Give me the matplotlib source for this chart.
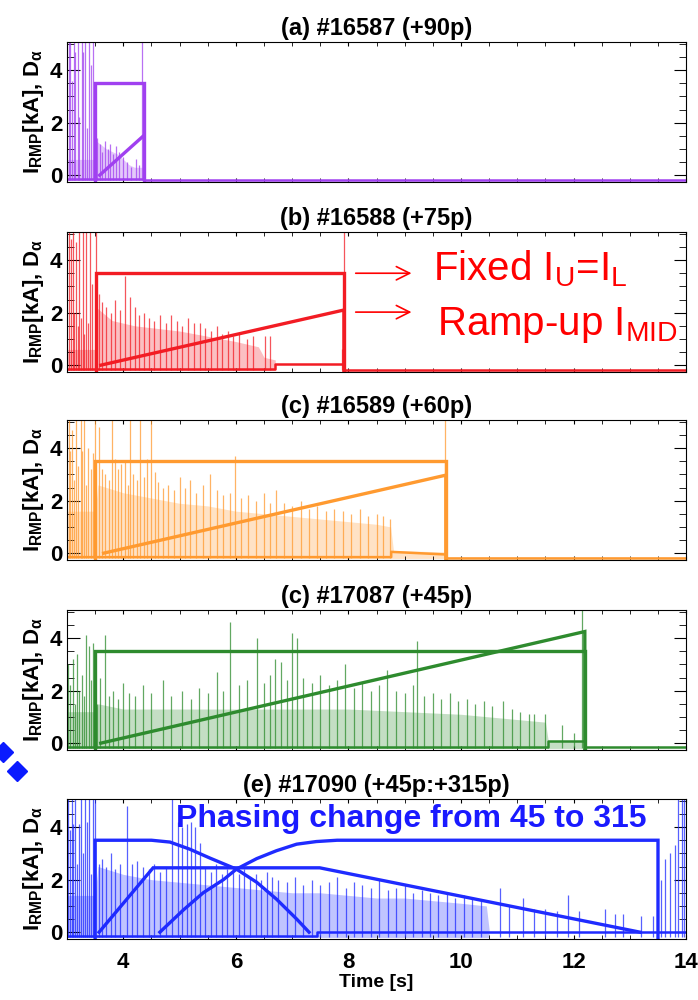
import numpy as np
import matplotlib.pyplot as plt
from matplotlib.ticker import MultipleLocator
from matplotlib.lines import Line2D

plt.rcParams['font.family'] = ['Liberation Sans', 'DejaVu Sans']
plt.rcParams['font.weight'] = 'bold'

# panel titles and colours
titles = ['(a) #16587 (+90p)', '(b) #16588 (+75p)', '(c) #16589 (+60p)',
          '(c) #17087 (+45p)', '(e) #17090 (+45p:+315p)']
colors = ['#a040f0', '#f21c24', '#ff9a30', '#2e8b2e', '#1f2bff']

# ---- (a) #16587 ----
sp_a_t = [3.03, 3.06, 3.09, 3.12, 3.15, 3.19, 3.22, 3.26, 3.29, 3.32,
          3.36, 3.39, 3.43, 3.46, 3.50, 3.53, 3.58, 3.63, 3.68, 3.72,
          3.77, 3.82, 3.87, 3.93, 3.99, 4.06, 4.14, 4.22, 4.28, 4.34]
sp_a_h = [5.3, 5.3, 3.6, 5.3, 4.7, 5.3, 2.2, 5.3, 4.7, 5.3,
          1.8, 5.3, 4.2, 5.3, 1.8, 1.4, 1.2, 0.9, 1.3, 1.0,
          1.2, 0.8, 1.1, 0.9, 0.7, 0.5, 0.3, 0.6, 0.4, 5.3]
fz_a_t = [3.0, 3.5, 3.52, 3.7, 3.9, 4.1, 4.2, 4.34]
fz_a_h = [0.6, 0.6, 1.3, 1.0, 0.8, 0.4, 0.3, 0.3]
fl_a_t = [3.0, 4.36, 4.36, 14.0]
fl_a_y = [-0.15, -0.15, -0.18, -0.18]
fix_a_t = [3.5, 3.5, 4.36, 4.36]
fix_a_I = [-0.2, 3.5, 3.5, -0.2]
mid_a_t = [3.58, 4.36]
mid_a_I = [0.0, 1.5]

# ---- (b) #16588 ----
sp_b_t = [3.03, 3.07, 3.10, 3.13, 3.16, 3.19, 3.22, 3.25, 3.28, 3.31,
          3.34, 3.37, 3.40, 3.45, 3.51, 3.56, 3.62, 3.70, 3.78, 3.86,
          3.94, 4.03, 4.12, 4.20, 4.28, 4.36, 4.45, 4.55, 4.65, 4.75,
          4.85, 4.95, 5.05, 5.15, 5.25, 5.36, 5.46, 5.56, 5.66, 5.76,
          5.86, 5.95, 6.05, 6.19, 6.30, 6.52, 6.61, 7.88, 7.92]
sp_b_h = [5.3, 4.8, 5.3, 2.0, 4.7, 1.5, 5.3, 1.8, 5.3, 1.2,
          5.3, 1.6, 5.3, 3.1, 5.3, 2.7, 2.4, 2.2, 2.0, 2.5,
          2.1, 3.4, 2.6, 2.2, 1.9, 2.0, 1.8, 1.7, 1.9, 1.6,
          1.9, 1.7, 1.5, 1.8, 1.6, 1.6, 1.4, 1.3, 1.5, 1.2,
          1.3, 1.1, 1.2, 1.0, 1.1, 1.1, 1.1, 0.6, 5.3]
fz_b_t = [3.0, 3.5, 3.52, 3.8, 4.2, 4.6, 5.0, 5.5, 6.0, 6.4, 6.5, 6.7]
fz_b_h = [0.6, 0.6, 2.2, 1.7, 1.5, 1.4, 1.3, 1.1, 0.9, 0.7, 0.3, 0.2]
fl_b_t = [3.0, 6.7, 6.7, 7.92, 7.92, 14.0]
fl_b_y = [-0.15, -0.15, 0.05, 0.05, -0.18, -0.18]
fix_b_t = [3.51, 3.51, 7.92, 7.92]
fix_b_I = [-0.2, 3.5, 3.5, -0.2]
mid_b_t = [3.6, 7.92, 7.92]
mid_b_I = [0.0, 2.1, -0.2]

# ---- (c) #16589 ----
sp_c_t = [3.03, 3.05, 3.08, 3.12, 3.16, 3.20, 3.24, 3.27, 3.31, 3.34,
          3.38, 3.42, 3.46, 3.50, 3.56, 3.62, 3.68, 3.74, 3.80, 3.85,
          3.90, 3.96, 4.03, 4.08, 4.12, 4.18, 4.24, 4.30, 4.36, 4.42,
          4.50, 4.56, 4.62, 4.70, 4.80, 4.90, 5.00, 5.10, 5.18, 5.30,
          5.42, 5.54, 5.66, 5.78, 5.90, 5.98, 6.10, 6.22, 6.35, 6.50,
          6.60, 6.72, 6.85, 7.00, 7.15, 7.30, 7.45, 7.60, 7.75, 7.90,
          8.05, 8.20, 8.35, 8.50, 8.62, 8.74, 9.72]
sp_c_h = [5.3, 3.9, 4.7, 2.8, 5.3, 3.3, 5.3, 3.9, 5.3, 2.6,
          4.0, 3.2, 3.8, 5.3, 4.8, 3.2, 3.0, 2.8, 5.3, 3.6,
          3.2, 3.4, 3.5, 2.6, 5.3, 3.0, 2.8, 5.3, 2.9, 3.6,
          5.3, 3.1, 2.7, 2.5, 2.6, 2.4, 2.9, 2.5, 2.8, 2.3,
          2.6, 3.0, 2.4, 2.2, 2.3, 3.7, 2.1, 2.2, 2.0, 2.3,
          1.9, 2.4, 1.9, 1.8, 2.0, 1.7, 1.8, 1.6, 1.7, 1.6,
          1.5, 1.7, 1.4, 1.5, 1.4, 1.3, 5.3]
fz_c_t = [3.0, 3.5, 3.55, 4.0, 4.5, 5.0, 5.5, 6.0, 6.5, 7.0, 7.5, 8.0,
          8.5, 8.75, 8.8, 9.7]
fz_c_h = [1.6, 1.6, 2.6, 2.3, 2.1, 1.9, 1.8, 1.6, 1.5, 1.4, 1.3, 1.2,
          1.1, 1.0, 0.1, 0.05]
fl_c_t = [3.0, 8.76, 8.76, 9.73, 9.73, 14.0]
fl_c_y = [-0.15, -0.15, 0.05, -0.05, -0.2, -0.2]
fix_c_t = [3.5, 3.5, 9.73, 9.73]
fix_c_I = [-0.2, 3.5, 3.5, -0.2]
mid_c_t = [3.65, 9.73, 9.73]
mid_c_I = [0.0, 2.97, -0.2]

# ---- (d) #17087 ----
sp_d_t = [3.02, 3.06, 3.10, 3.14, 3.18, 3.22, 3.26, 3.30, 3.34, 3.39,
          3.43, 3.46, 3.53, 3.59, 3.67, 3.74, 3.82, 3.90, 4.00, 4.10,
          4.20, 4.35, 4.50, 4.70, 4.85, 5.04, 5.20, 5.35, 5.50, 5.66,
          5.78, 5.90, 6.05, 6.20, 6.37, 6.50, 6.60, 6.70, 6.81, 6.90,
          6.99, 7.08, 7.20, 7.35, 7.50, 7.65, 7.80, 7.94, 8.10, 8.25,
          8.40, 8.55, 8.68, 8.85, 9.00, 9.15, 9.21, 9.35, 9.50, 9.65,
          9.80, 9.95, 10.10, 10.25, 10.40, 10.55, 10.75, 10.90, 11.05, 11.20,
          11.30, 11.50, 11.80, 12.00, 12.15]
sp_d_h = [3.0, 2.2, 3.2, 1.5, 3.4, 2.0, 2.6, 1.8, 4.1, 3.7,
          2.4, 3.8, 1.5, 2.5, 4.1, 1.8, 2.0, 1.7, 2.3, 1.9,
          1.8, 2.2, 1.9, 2.4, 1.8, 2.0, 1.7, 2.1, 1.9, 2.7,
          2.0, 4.6, 2.2, 2.4, 4.0, 2.3, 2.6, 3.2, 3.1, 2.4,
          4.2, 4.0, 2.5, 2.3, 2.6, 2.2, 2.4, 3.0, 2.1, 2.3,
          2.0, 2.2, 2.8, 2.0, 1.9, 2.2, 3.9, 1.8, 1.9, 1.7,
          1.9, 1.6, 1.7, 1.5, 1.6, 1.4, 1.6, 1.3, 1.2, 1.1,
          1.1, 1.1, 0.7, 0.4, 5.3]
fz_d_t = [3.0, 3.5, 3.55, 4.0, 5.0, 6.0, 7.0, 8.0, 9.0, 10.0, 11.0, 11.5,
          11.55, 12.15]
fz_d_h = [1.2, 1.2, 1.5, 1.3, 1.3, 1.3, 1.3, 1.3, 1.2, 1.1, 0.9, 0.8,
          0.1, 0.1]
fl_d_t = [3.0, 11.55, 11.55, 12.2, 12.2, 14.0]
fl_d_y = [-0.15, -0.15, 0.08, 0.08, -0.15, -0.15]
fix_d_t = [3.5, 3.5, 12.2, 12.2]
fix_d_I = [-0.2, 3.5, 3.5, -0.2]
mid_d_t = [3.6, 12.2, 12.2]
mid_d_I = [0.0, 4.25, -0.2]

# ---- (e) #17090 ----
sp_e_t = [3.02, 3.05, 3.08, 3.11, 3.14, 3.18, 3.21, 3.25, 3.28, 3.32,
          3.35, 3.39, 3.42, 3.46, 3.50, 3.56, 3.62, 3.70, 3.78, 3.86,
          3.95, 4.06, 4.15, 4.25, 4.35, 4.45, 4.55, 4.65, 4.75, 4.86,
          4.98, 5.04, 5.13, 5.21, 5.27, 5.36, 5.45, 5.55, 5.65, 5.75,
          5.85, 5.95, 6.05, 6.15, 6.25, 6.35, 6.45, 6.55, 6.65, 6.75,
          6.90, 7.05, 7.20, 7.35, 7.50, 7.65, 7.80, 7.95, 8.10, 8.25,
          8.40, 8.55, 8.70, 8.85, 9.00, 9.15, 9.30, 9.45, 9.60, 9.75,
          9.90, 10.05, 10.20, 10.35, 10.69, 10.85, 11.10, 11.30, 11.49, 11.70,
          11.90, 12.10, 12.56, 12.73, 12.88, 13.20, 13.41, 13.56, 13.62, 13.71,
          13.80, 13.86, 13.92, 13.97]
sp_e_h = [5.3, 3.9, 5.3, 4.1, 5.3, 2.6, 4.1, 5.3, 3.0, 5.3,
          4.2, 5.3, 2.2, 5.3, 5.3, 2.6, 2.8, 2.5, 3.0, 2.4,
          2.6, 4.8, 2.6, 2.7, 2.5, 2.4, 2.6, 2.3, 2.5, 5.3,
          4.2, 4.0, 4.1, 4.2, 4.0, 3.4, 2.5, 2.3, 2.6, 2.2,
          2.4, 2.3, 2.2, 2.4, 2.1, 2.2, 2.0, 2.3, 2.1, 2.0,
          1.9, 2.1, 1.8, 2.0, 1.8, 1.9, 2.1, 1.7, 1.9, 1.8,
          1.7, 2.0, 1.6, 1.7, 1.8, 1.5, 1.6, 1.5, 1.4, 1.5,
          1.3, 1.4, 1.3, 1.2, 1.7, 1.0, 1.3, 0.9, 0.9, 0.8,
          1.4, 0.8, 0.9, 0.7, 0.7, 0.6, 0.6, 2.0, 2.8, 3.0,
          3.3, 5.3, 5.3, 5.3]
fz_e_t = [3.0, 3.5, 3.55, 4.0, 4.5, 5.0, 5.5, 6.0, 6.5, 7.0, 7.5, 8.0,
          8.5, 9.0, 9.5, 10.0, 10.45, 10.5]
fz_e_h = [1.4, 1.4, 2.5, 2.2, 2.0, 1.9, 1.8, 1.7, 1.6, 1.5, 1.5, 1.4,
          1.3, 1.3, 1.2, 1.1, 1.0, 0.1]
fl_e_t = [3.0, 7.45, 7.45, 14.0]
fl_e_y = [-0.15, -0.15, 0.0, 0.0]
fix_e_t = [3.5, 3.5, 4.5, 4.83, 5.18, 5.54, 6.01, 6.37, 6.72, 7.08, 7.3]
fix_e_I = [-0.2, 3.5, 3.5, 3.43, 3.16, 2.82, 2.4, 1.9, 1.26, 0.5, 0.0]
rise_e_t = [4.65, 5.07, 5.42, 5.78, 6.01, 6.37, 6.72, 7.08, 7.43, 7.8, 13.5, 13.5]
rise_e_I = [0.0, 0.85, 1.5, 2.0, 2.4, 2.8, 3.1, 3.35, 3.45, 3.5, 3.5, -0.2]
trap_e_t = [3.57, 4.53, 7.49, 13.18]
trap_e_I = [0.0, 2.45, 2.45, 0.0]

panels = [
    dict(sp=(sp_a_t, sp_a_h), fz=(fz_a_t, fz_a_h), fl=(fl_a_t, fl_a_y),
         coils=[(fix_a_t, fix_a_I), (mid_a_t, mid_a_I)]),
    dict(sp=(sp_b_t, sp_b_h), fz=(fz_b_t, fz_b_h), fl=(fl_b_t, fl_b_y),
         coils=[(fix_b_t, fix_b_I), (mid_b_t, mid_b_I)]),
    dict(sp=(sp_c_t, sp_c_h), fz=(fz_c_t, fz_c_h), fl=(fl_c_t, fl_c_y),
         coils=[(fix_c_t, fix_c_I), (mid_c_t, mid_c_I)]),
    dict(sp=(sp_d_t, sp_d_h), fz=(fz_d_t, fz_d_h), fl=(fl_d_t, fl_d_y),
         coils=[(fix_d_t, fix_d_I), (mid_d_t, mid_d_I)]),
    dict(sp=(sp_e_t, sp_e_h), fz=(fz_e_t, fz_e_h), fl=(fl_e_t, fl_e_y),
         coils=[(fix_e_t, fix_e_I), (rise_e_t, rise_e_I), (trap_e_t, trap_e_I)]),
]

# axes placement (figure fraction)
bottoms = [0.818, 0.628, 0.44, 0.25, 0.061]
left, width, height = 0.096, 0.887, 0.14

fig = plt.figure(figsize=(6.98, 10), dpi=100)
axes = []
for i, p in enumerate(panels):
    c = colors[i]
    ax = fig.add_axes([left, bottoms[i], width, height])
    axes.append(ax)
    ft, fh = p['fz']
    ax.fill_between(ft, -0.2, fh, color=c, alpha=0.28, lw=0)
    st, sh = p['sp']
    ax.vlines(st, -0.2, sh, color=c, lw=0.9, alpha=0.75)
    lt, ly = p['fl']
    ax.plot(lt, ly, color=c, lw=1.8)
    for ct, ci in p['coils']:
        ax.plot(ct, ci, color=c, lw=2.4, solid_joinstyle='miter')

    ax.set_xlim(3, 14)
    ax.set_ylim(-0.26, 5.07)
    ax.xaxis.set_major_locator(MultipleLocator(2))
    ax.xaxis.set_minor_locator(MultipleLocator(0.5))
    ax.yaxis.set_major_locator(MultipleLocator(2))
    ax.yaxis.set_minor_locator(MultipleLocator(0.5))
    ax.tick_params(which='both', direction='in', top=True, right=True)
    ax.tick_params(axis='y', which='major', length=9, labelsize=16)
    ax.tick_params(axis='y', which='minor', length=5)
    ax.tick_params(axis='x', which='both', length=3, labelsize=16, pad=9)
    if i < 4:
        ax.tick_params(axis='x', labelbottom=False)
    ax.set_title(titles[i], fontsize=17, fontweight='bold', pad=5)
    ax.set_ylabel('I$_\\mathregular{RMP}$[kA], D$_\\mathregular{\u03b1}$',
                  fontsize=16, fontweight='bold', labelpad=3)

axes[-1].set_xlabel('Time [s]', fontsize=14, fontweight='bold', labelpad=1)

# annotations in panel (b)
ax_b = axes[1]
for yy in [3.5, 2.02]:
    ax_b.annotate('', xy=(9.17, yy), xytext=(8.08, yy),
                  arrowprops=dict(arrowstyle='->', color='#ff0000', lw=1.2,
                                  mutation_scale=24))
ax_b.text(9.5, 3.24, 'Fixed I$_\\mathregular{U}$=I$_\\mathregular{L}$',
          color='#ff0000', fontsize=29, fontweight='normal', va='baseline',
          clip_on=False)
ax_b.text(9.57, 1.14, 'Ramp-up I$_\\mathregular{MID}$',
          color='#ff0000', fontsize=29, fontweight='normal', va='baseline',
          clip_on=False)

# annotation in panel (e)
axes[4].text(4.94, 4.0, 'Phasing change from 45 to 315', color='#1a1aff',
             fontsize=23, fontweight='bold', va='baseline')

# slide decoration: two blue diamonds at the left edge
dia_x = [3, 17]
dia_y = [752, 771]
fig.add_artist(Line2D([x / 698 for x in dia_x], [1 - y / 1000 for y in dia_y],
                      transform=fig.transFigure, ls='none', marker='D',
                      markersize=10, color='#0a1aff'))

fig.savefig('out.png', dpi=100)
